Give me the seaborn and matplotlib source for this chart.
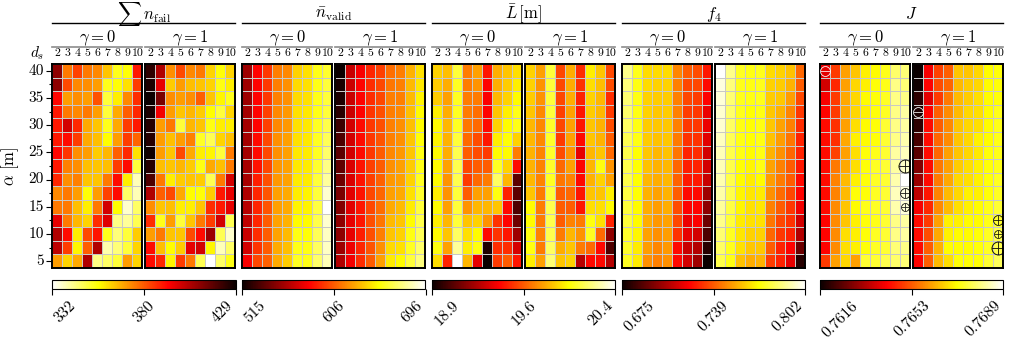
import numpy as np
import pandas as pd
import matplotlib
matplotlib.use("Agg")
import matplotlib.pyplot as plt
import seaborn as sns
from matplotlib.lines import Line2D

plt.rcParams['font.family'] = ['serif']
plt.rcParams['font.serif'] = ['cmr10', 'DejaVu Serif']
plt.rcParams['mathtext.fontset'] = 'cm'
plt.rcParams['axes.formatter.use_mathtext'] = True

ds = [2, 3, 4, 5, 6, 7, 8, 9, 10]
alpha = [40, 37.5, 35, 32.5, 30, 27.5, 25, 22.5, 20, 17.5, 15, 12.5, 10, 7.5, 5]

nfail_g0 = [
    [410, 376, 384, 376, 374, 365, 354, 356, 390],
    [410, 383, 374, 373, 371, 354, 356, 361, 385],
    [393, 371, 373, 371, 382, 351, 359, 374, 387],
    [390, 376, 374, 376, 371, 351, 369, 380, 388],
    [390, 400, 388, 369, 365, 354, 369, 385, 390],
    [390, 392, 385, 369, 366, 357, 371, 385, 379],
    [393, 386, 373, 371, 364, 367, 380, 388, 361],
    [390, 375, 373, 366, 365, 366, 385, 392, 351],
    [388, 373, 375, 365, 365, 376, 392, 359, 339],
    [374, 376, 371, 356, 371, 384, 392, 347, 339],
    [376, 376, 366, 359, 376, 400, 357, 337, 347],
    [397, 376, 367, 363, 387, 398, 344, 342, 349],
    [405, 392, 359, 383, 391, 354, 345, 351, 364],
    [403, 385, 358, 380, 405, 340, 345, 351, 363],
    [371, 363, 369, 405, 344, 347, 351, 371, 363],
]
nfail_g1 = [
    [424, 405, 373, 383, 374, 376, 363, 356, 363],
    [426, 397, 364, 371, 366, 365, 363, 355, 359],
    [429, 413, 373, 371, 373, 380, 365, 358, 354],
    [426, 395, 371, 365, 367, 364, 357, 351, 363],
    [425, 371, 376, 351, 367, 365, 355, 359, 359],
    [425, 371, 366, 371, 375, 353, 349, 363, 366],
    [428, 371, 365, 383, 369, 359, 358, 351, 376],
    [425, 366, 365, 367, 364, 355, 369, 366, 376],
    [419, 376, 359, 364, 365, 364, 349, 376, 400],
    [405, 380, 383, 369, 357, 356, 364, 390, 397],
    [373, 365, 366, 359, 359, 365, 387, 390, 397],
    [387, 354, 371, 351, 365, 376, 385, 400, 349],
    [371, 376, 365, 365, 383, 392, 408, 349, 337],
    [392, 366, 357, 364, 397, 400, 358, 339, 347],
    [392, 388, 358, 385, 376, 349, 332, 347, 355],
]

nvalid_g0 = [
    [555, 582, 596, 615, 618, 638, 642, 654, 658],
    [555, 582, 596, 615, 620, 640, 642, 654, 660],
    [555, 582, 596, 616, 620, 640, 642, 654, 660],
    [557, 582, 598, 618, 622, 642, 644, 654, 660],
    [557, 582, 598, 618, 622, 642, 644, 656, 663],
    [557, 584, 600, 620, 624, 642, 644, 656, 665],
    [557, 584, 600, 620, 624, 644, 645, 656, 669],
    [558, 586, 600, 622, 625, 644, 645, 658, 674],
    [558, 589, 602, 622, 625, 645, 645, 660, 678],
    [560, 591, 604, 624, 627, 645, 647, 660, 687],
    [562, 591, 604, 624, 627, 647, 647, 662, 696],
    [564, 591, 606, 625, 629, 649, 649, 663, 687],
    [566, 593, 606, 625, 631, 653, 651, 665, 685],
    [569, 595, 606, 627, 633, 654, 653, 667, 685],
    [580, 600, 607, 627, 636, 656, 654, 669, 683],
]
nvalid_g1 = [
    [515, 566, 580, 591, 598, 611, 615, 629, 642],
    [519, 567, 582, 593, 600, 613, 616, 631, 644],
    [520, 567, 582, 593, 600, 615, 616, 631, 647],
    [524, 567, 582, 595, 602, 615, 618, 633, 649],
    [529, 569, 584, 596, 602, 616, 620, 633, 649],
    [533, 569, 584, 596, 604, 616, 620, 634, 651],
    [537, 569, 584, 596, 606, 618, 622, 634, 653],
    [539, 571, 586, 598, 606, 620, 624, 636, 654],
    [542, 571, 586, 598, 607, 622, 624, 638, 656],
    [546, 573, 586, 600, 609, 624, 627, 642, 658],
    [548, 573, 587, 600, 611, 627, 631, 645, 660],
    [551, 575, 587, 602, 613, 631, 634, 649, 663],
    [551, 575, 589, 602, 616, 634, 638, 653, 665],
    [555, 577, 591, 604, 620, 640, 642, 656, 669],
    [560, 578, 593, 606, 624, 645, 649, 660, 672],
]

L_g0 = [
    [19.89, 19.85, 20.07, 19.70, 19.78, 19.48, 19.81, 19.86, 19.92],
    [19.88, 19.81, 20.04, 19.70, 19.75, 19.44, 19.81, 19.88, 19.95],
    [19.88, 19.78, 20.04, 19.70, 19.70, 19.43, 19.83, 19.89, 19.98],
    [19.95, 19.81, 20.04, 19.70, 19.67, 19.44, 19.86, 19.95, 20.02],
    [19.98, 19.83, 20.04, 19.69, 19.66, 19.45, 19.89, 19.98, 20.02],
    [19.97, 19.82, 20.07, 19.66, 19.60, 19.48, 19.95, 20.00, 19.89],
    [19.98, 19.81, 20.10, 19.63, 19.60, 19.56, 19.98, 19.98, 19.70],
    [19.98, 19.78, 20.10, 19.59, 19.63, 19.63, 20.04, 19.89, 19.45],
    [19.98, 19.75, 20.10, 19.56, 19.66, 19.70, 20.13, 19.83, 19.08],
    [19.95, 19.75, 20.07, 19.63, 19.78, 19.78, 20.01, 19.51, 19.08],
    [19.98, 19.78, 20.07, 19.75, 19.83, 19.83, 19.86, 19.45, 19.05],
    [19.95, 19.83, 20.07, 19.86, 19.89, 19.75, 19.54, 19.44, 19.12],
    [19.98, 19.86, 20.13, 19.92, 19.98, 19.45, 19.54, 19.48, 19.22],
    [20.01, 19.78, 20.21, 19.95, 20.01, 18.94, 19.53, 19.53, 19.34],
    [19.92, 19.51, 20.36, 19.83, 19.38, 18.90, 19.56, 19.63, 19.48],
]
L_g1 = [
    [19.89, 19.78, 20.07, 19.59, 19.81, 19.53, 19.95, 19.86, 19.59],
    [19.89, 19.75, 20.07, 19.59, 19.81, 19.54, 19.92, 19.85, 19.60],
    [19.88, 19.75, 20.07, 19.59, 19.81, 19.51, 19.89, 19.83, 19.53],
    [19.86, 19.73, 20.07, 19.57, 19.78, 19.48, 19.88, 19.83, 19.56],
    [19.83, 19.73, 20.05, 19.59, 19.78, 19.48, 19.86, 19.82, 19.60],
    [19.83, 19.73, 20.05, 19.56, 19.78, 19.45, 19.86, 19.82, 19.63],
    [19.82, 19.72, 20.05, 19.60, 19.75, 19.38, 19.83, 19.86, 19.66],
    [19.82, 19.72, 20.05, 19.66, 19.78, 19.44, 19.83, 20.01, 19.75],
    [19.83, 19.72, 20.04, 19.69, 19.72, 19.45, 19.82, 19.89, 19.78],
    [19.86, 19.70, 20.07, 19.63, 19.66, 19.48, 19.86, 19.86, 19.95],
    [19.98, 19.70, 20.10, 19.63, 19.63, 19.48, 19.92, 19.92, 19.98],
    [19.98, 19.70, 20.10, 19.63, 19.72, 19.70, 20.01, 19.92, 19.51],
    [20.01, 19.72, 20.10, 19.70, 19.83, 19.75, 20.04, 19.66, 19.19],
    [20.01, 19.70, 20.13, 19.81, 19.86, 19.70, 19.66, 19.45, 19.05],
    [19.95, 19.78, 20.16, 19.86, 19.89, 19.28, 19.45, 19.45, 19.27],
]

f4_g0 = [
    [0.787, 0.773, 0.763, 0.763, 0.763, 0.747, 0.739, 0.736, 0.726],
    [0.785, 0.772, 0.763, 0.761, 0.761, 0.746, 0.735, 0.735, 0.723],
    [0.784, 0.772, 0.761, 0.760, 0.760, 0.746, 0.735, 0.733, 0.722],
    [0.783, 0.772, 0.761, 0.759, 0.760, 0.746, 0.733, 0.732, 0.718],
    [0.782, 0.772, 0.760, 0.759, 0.759, 0.746, 0.732, 0.732, 0.718],
    [0.780, 0.772, 0.760, 0.758, 0.759, 0.745, 0.731, 0.731, 0.716],
    [0.779, 0.770, 0.759, 0.756, 0.758, 0.744, 0.728, 0.730, 0.713],
    [0.779, 0.770, 0.758, 0.755, 0.756, 0.741, 0.727, 0.728, 0.713],
    [0.779, 0.770, 0.756, 0.754, 0.756, 0.740, 0.726, 0.726, 0.711],
    [0.778, 0.770, 0.755, 0.752, 0.755, 0.739, 0.723, 0.723, 0.703],
    [0.777, 0.769, 0.754, 0.751, 0.754, 0.736, 0.722, 0.722, 0.700],
    [0.777, 0.769, 0.754, 0.750, 0.752, 0.735, 0.718, 0.721, 0.694],
    [0.775, 0.768, 0.752, 0.749, 0.751, 0.731, 0.717, 0.713, 0.688],
    [0.775, 0.766, 0.751, 0.747, 0.750, 0.723, 0.711, 0.707, 0.681],
    [0.774, 0.766, 0.749, 0.746, 0.749, 0.723, 0.713, 0.703, 0.6752],
]
f4_g1 = [
    [0.802, 0.787, 0.774, 0.772, 0.773, 0.763, 0.761, 0.758, 0.741],
    [0.798, 0.785, 0.773, 0.772, 0.773, 0.761, 0.760, 0.755, 0.739],
    [0.797, 0.784, 0.773, 0.772, 0.773, 0.760, 0.759, 0.751, 0.735],
    [0.796, 0.783, 0.773, 0.770, 0.772, 0.759, 0.755, 0.747, 0.732],
    [0.796, 0.782, 0.772, 0.770, 0.772, 0.759, 0.752, 0.746, 0.730],
    [0.794, 0.780, 0.772, 0.770, 0.772, 0.758, 0.751, 0.744, 0.728],
    [0.793, 0.779, 0.772, 0.769, 0.772, 0.755, 0.749, 0.741, 0.728],
    [0.793, 0.779, 0.770, 0.768, 0.772, 0.752, 0.746, 0.739, 0.726],
    [0.792, 0.779, 0.769, 0.766, 0.769, 0.751, 0.745, 0.739, 0.723],
    [0.791, 0.779, 0.768, 0.765, 0.766, 0.749, 0.742, 0.735, 0.722],
    [0.789, 0.778, 0.768, 0.764, 0.765, 0.746, 0.739, 0.732, 0.719],
    [0.787, 0.777, 0.766, 0.764, 0.764, 0.744, 0.735, 0.731, 0.713],
    [0.784, 0.774, 0.765, 0.761, 0.761, 0.741, 0.732, 0.728, 0.707],
    [0.782, 0.773, 0.764, 0.759, 0.759, 0.739, 0.728, 0.722, 0.694],
    [0.779, 0.772, 0.758, 0.754, 0.755, 0.733, 0.728, 0.717, 0.681],
]

J_g0 = [
    [0.7640, 0.7649, 0.7660, 0.7664, 0.7669, 0.7670, 0.7672, 0.7678, 0.7679],
    [0.7638, 0.7647, 0.7660, 0.7666, 0.7669, 0.7671, 0.7672, 0.7680, 0.7679],
    [0.7642, 0.7649, 0.7661, 0.7666, 0.7670, 0.7671, 0.7673, 0.7680, 0.7680],
    [0.7643, 0.7649, 0.7661, 0.7666, 0.7669, 0.7671, 0.7673, 0.7680, 0.7682],
    [0.7644, 0.7648, 0.7660, 0.7667, 0.7670, 0.7671, 0.7674, 0.7680, 0.7682],
    [0.7644, 0.7648, 0.7661, 0.7669, 0.7670, 0.7671, 0.7674, 0.7680, 0.7683],
    [0.7644, 0.7650, 0.7660, 0.7667, 0.7671, 0.7672, 0.7674, 0.7682, 0.7684],
    [0.7644, 0.7656, 0.7661, 0.7667, 0.7671, 0.7673, 0.7674, 0.7682, 0.7685],
    [0.7644, 0.7657, 0.7663, 0.7669, 0.7671, 0.7673, 0.7674, 0.7683, 0.7689],
    [0.7644, 0.7657, 0.7663, 0.7671, 0.7671, 0.7673, 0.7674, 0.7684, 0.7687],
    [0.7644, 0.7658, 0.7664, 0.7670, 0.7672, 0.7673, 0.7674, 0.7683, 0.7686],
    [0.7643, 0.7658, 0.7664, 0.7669, 0.7671, 0.7672, 0.7674, 0.7680, 0.7682],
    [0.7643, 0.7658, 0.7667, 0.7669, 0.7671, 0.7673, 0.7674, 0.7680, 0.7682],
    [0.7643, 0.7658, 0.7667, 0.7669, 0.7671, 0.7673, 0.7674, 0.7679, 0.7680],
    [0.7649, 0.7660, 0.7666, 0.7660, 0.7674, 0.7674, 0.7676, 0.7678, 0.7679],
]
J_g1 = [
    [0.76162, 0.7642, 0.7650, 0.7653, 0.7664, 0.7664, 0.7666, 0.7670, 0.7671],
    [0.7617, 0.7643, 0.7651, 0.7654, 0.7663, 0.7665, 0.7666, 0.7670, 0.7671],
    [0.7620, 0.7640, 0.7649, 0.7656, 0.7663, 0.7665, 0.7667, 0.7670, 0.7671],
    [0.7618, 0.7643, 0.7653, 0.7658, 0.7663, 0.7666, 0.7667, 0.7670, 0.7672],
    [0.7620, 0.7644, 0.7653, 0.7658, 0.7664, 0.7666, 0.7667, 0.7670, 0.7672],
    [0.7623, 0.7644, 0.7654, 0.7658, 0.7664, 0.7666, 0.7669, 0.7670, 0.7672],
    [0.7625, 0.7644, 0.7654, 0.7660, 0.7664, 0.7666, 0.7668, 0.7671, 0.7672],
    [0.7629, 0.7644, 0.7656, 0.7660, 0.7665, 0.7667, 0.7669, 0.7671, 0.7672],
    [0.7632, 0.7644, 0.7656, 0.7661, 0.7666, 0.7667, 0.7669, 0.7671, 0.7673],
    [0.7636, 0.7645, 0.7657, 0.7663, 0.7666, 0.7669, 0.7669, 0.7671, 0.7673],
    [0.7642, 0.7647, 0.7658, 0.7663, 0.7667, 0.7669, 0.7670, 0.7672, 0.7674],
    [0.7644, 0.7649, 0.7660, 0.7669, 0.7669, 0.7670, 0.7670, 0.7672, 0.7674],
    [0.7644, 0.7651, 0.7661, 0.7669, 0.7670, 0.7670, 0.7671, 0.7673, 0.7676],
    [0.7644, 0.7653, 0.7662, 0.7670, 0.7670, 0.7670, 0.7671, 0.7673, 0.7676],
    [0.7643, 0.7653, 0.7663, 0.7667, 0.7671, 0.7671, 0.7671, 0.7674, 0.7677],
]

# marked cells in the J panels: (gamma, ds, alpha, sign, marker size)
J_marks = [
    (0, 2, 40, "-", 55),
    (0, 10, 22.5, "+", 95),
    (0, 10, 17.5, "+", 55),
    (0, 10, 15, "+", 35),
    (1, 2, 32.5, "-", 55),
    (1, 10, 12.5, "+", 55),
    (1, 10, 10, "+", 35),
    (1, 10, 7.5, "+", 95),
]

groups = [
    (r"$\sum\, n_{\mathrm{fail}}$", nfail_g0, nfail_g1, "hot_r", "{:.0f}"),
    (r"$\bar{n}_{\mathrm{valid}}$", nvalid_g0, nvalid_g1, "hot", "{:.0f}"),
    (r"$\bar{L}\,\mathrm{[m]}$", L_g0, L_g1, "hot", "{:.1f}"),
    (r"$f_4$", f4_g0, f4_g1, "hot", "{:.3f}"),
    (r"$J$", J_g0, J_g1, "hot", "{:.4f}"),
]

W, H = 1012, 340
fig = plt.figure(figsize=(W / 100, H / 100), dpi=100)

def fx(px):
    return px / W

def fy(py):
    return 1 - py / H

lefts = [52, 242, 432, 622, 820]
pw, gap = 90.5, 2.5
top, bot = 64, 268
gw = 2 * pw + gap

major = [i + 0.5 for i, a in enumerate(alpha) if a % 5 == 0]
minor = [i + 0.5 for i, a in enumerate(alpha) if a % 5 != 0]

for g, (title, d0, d1, cmap, fmt) in enumerate(groups):
    vmin = min(np.min(d0), np.min(d1))
    vmax = max(np.max(d0), np.max(d1))
    x0 = lefts[g]
    for k, data in enumerate([d0, d1]):
        xl = x0 + k * (pw + gap)
        ax = fig.add_axes([fx(xl), fy(bot), pw / W, (bot - top) / H])
        df = pd.DataFrame(data, index=alpha, columns=ds)
        sns.heatmap(df, ax=ax, cmap=cmap, vmin=vmin, vmax=vmax, cbar=False,
                    linewidths=0.45, linecolor="#c8c8c8")
        for s in ax.spines.values():
            s.set_visible(True)
            s.set_color("black")
            s.set_linewidth(1.4)
        ax.xaxis.tick_top()
        ax.set_xticks(np.arange(len(ds)) + 0.5)
        ax.set_xticklabels([str(d) for d in ds], rotation=0, fontsize=8.5)
        ax.tick_params(axis="x", length=0, pad=4)
        ax.set_xlabel("")
        if g == 0 and k == 0:
            ax.set_yticks(major)
            ax.set_yticklabels([f"{a:g}" for a in alpha if a % 5 == 0],
                               rotation=0, fontsize=11)
            ax.set_yticks(minor, minor=True)
            ax.tick_params(axis="y", which="major", left=True, length=4,
                           width=0.8, direction="out", pad=2)
            ax.tick_params(axis="y", which="minor", left=True, length=2.5,
                           width=0.8, direction="out")
            ax.set_ylabel(r"$\alpha$ [m]", fontsize=12, labelpad=5)
        else:
            ax.set_yticks([])
            ax.set_ylabel("")

        if g == 4:
            for gm, d, a, sign, size in J_marks:
                if gm != k:
                    continue
                mk = r"$\oplus$" if sign == "+" else r"$\ominus$"
                col = "black" if sign == "+" else "white"
                ax.scatter(ds.index(d) + 0.5, alpha.index(a) + 0.5, marker=mk,
                           s=size, color=col, linewidths=0.2, zorder=5)

        xc = xl + pw / 2
        fig.text(fx(xc), fy(38), r"$\gamma = %d$" % k, ha="center",
                 va="center", fontsize=12)
        fig.add_artist(Line2D([fx(xl), fx(xl + pw)], [fy(46.5), fy(46.5)],
                              color="#8c8c8c", lw=1.2))

    fig.text(fx(x0 + gw / 2), fy(14), title, ha="center", va="center",
             fontsize=12)
    fig.add_artist(Line2D([fx(x0), fx(x0 + gw)], [fy(23), fy(23)],
                          color="black", lw=1.0))

    cax = fig.add_axes([fx(x0), fy(289), gw / W, 9 / H])
    cb = fig.colorbar(ax.collections[0], cax=cax, orientation="horizontal")
    ticks = [vmin, (vmin + vmax) / 2, vmax]
    cb.set_ticks(ticks)
    cb.set_ticklabels([fmt.format(t) for t in ticks])
    cb.outline.set_linewidth(0.8)
    cax.tick_params(length=4, width=0.8, direction="out", labelsize=11.5, pad=3)
    for lab, ha in zip(cax.get_xticklabels(), ["left", "center", "right"]):
        lab.set_rotation(45)
        lab.set_ha(ha)
        lab.set_va("top")

fig.text(fx(37), fy(53), r"$d_s$", ha="center", va="center", fontsize=11)

plt.savefig("out.png", dpi=100)
